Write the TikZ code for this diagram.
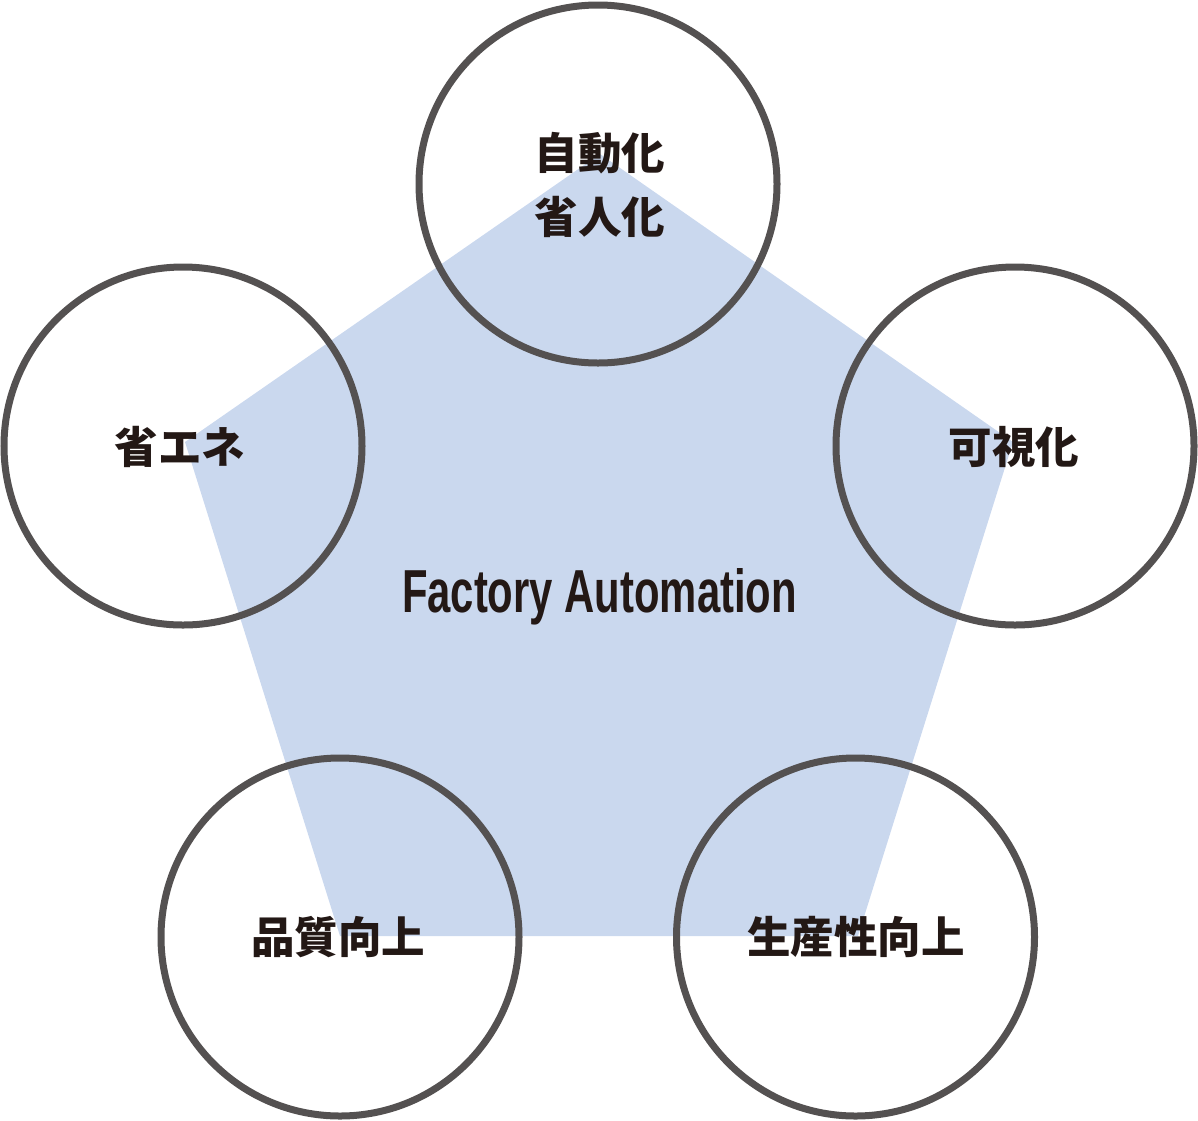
\documentclass[tikz,border=0pt]{standalone}
\usepackage{fontspec}
\usepackage{graphicx}
\newfontfamily\cjk{Noto Sans CJK JP}[BoldFont={Noto Sans CJK JP Black}]
\newfontfamily\latinfont{Liberation Sans}
\definecolor{pentablue}{RGB}{202,216,238}
\definecolor{ringgray}{RGB}{84,81,81}
\definecolor{inkblack}{RGB}{35,24,21}
\begin{document}
\begin{tikzpicture}[x=1pt,y=-1pt,
  ring/.style={circle,draw=ringgray,line width=7pt,minimum size=358pt,inner sep=0pt},
  jlabel/.style={text=inkblack,align=center,inner sep=0pt,font=\cjk\bfseries\fontsize{43.5}{64}\selectfont},
  talabel/.style={text=inkblack,inner sep=0pt,anchor=base}]
\useasboundingbox (0,0) rectangle (1198,1120);
% pentagon
\coordinate (pt) at (600,154);
\coordinate (pl) at (185,442);
\coordinate (pr) at (1013,442);
\coordinate (pbl) at (340,936);
\coordinate (pbr) at (858,936);
\fill[pentablue] (pt) -- (pr) -- (pbr) -- (pbl) -- (pl) -- cycle;
% rings
\node[ring] (top) at (598,184) {};
\node[ring] (left) at (183,446) {};
\node[ring] (right) at (1015,446) {};
\node[ring] (bl) at (340,937) {};
\node[ring] (br) at (855.5,937) {};
% labels
\node[jlabel] (ttop) at (600,185) {自動化\\省人化};
\node[jlabel] (tleft) at (180,447) {省エネ};
\node[jlabel] (tright) at (1014,447) {可視化};
\node[jlabel] (tbl) at (338,937) {品質向上};
\node[jlabel] (tbr) at (856,937) {生産性向上};
\node[talabel] (fa) at (599.5,612) {\resizebox{395pt}{44pt}{\latinfont\bfseries\fontsize{60}{60}\selectfont Factory Automation}};
\end{tikzpicture}
\end{document}
